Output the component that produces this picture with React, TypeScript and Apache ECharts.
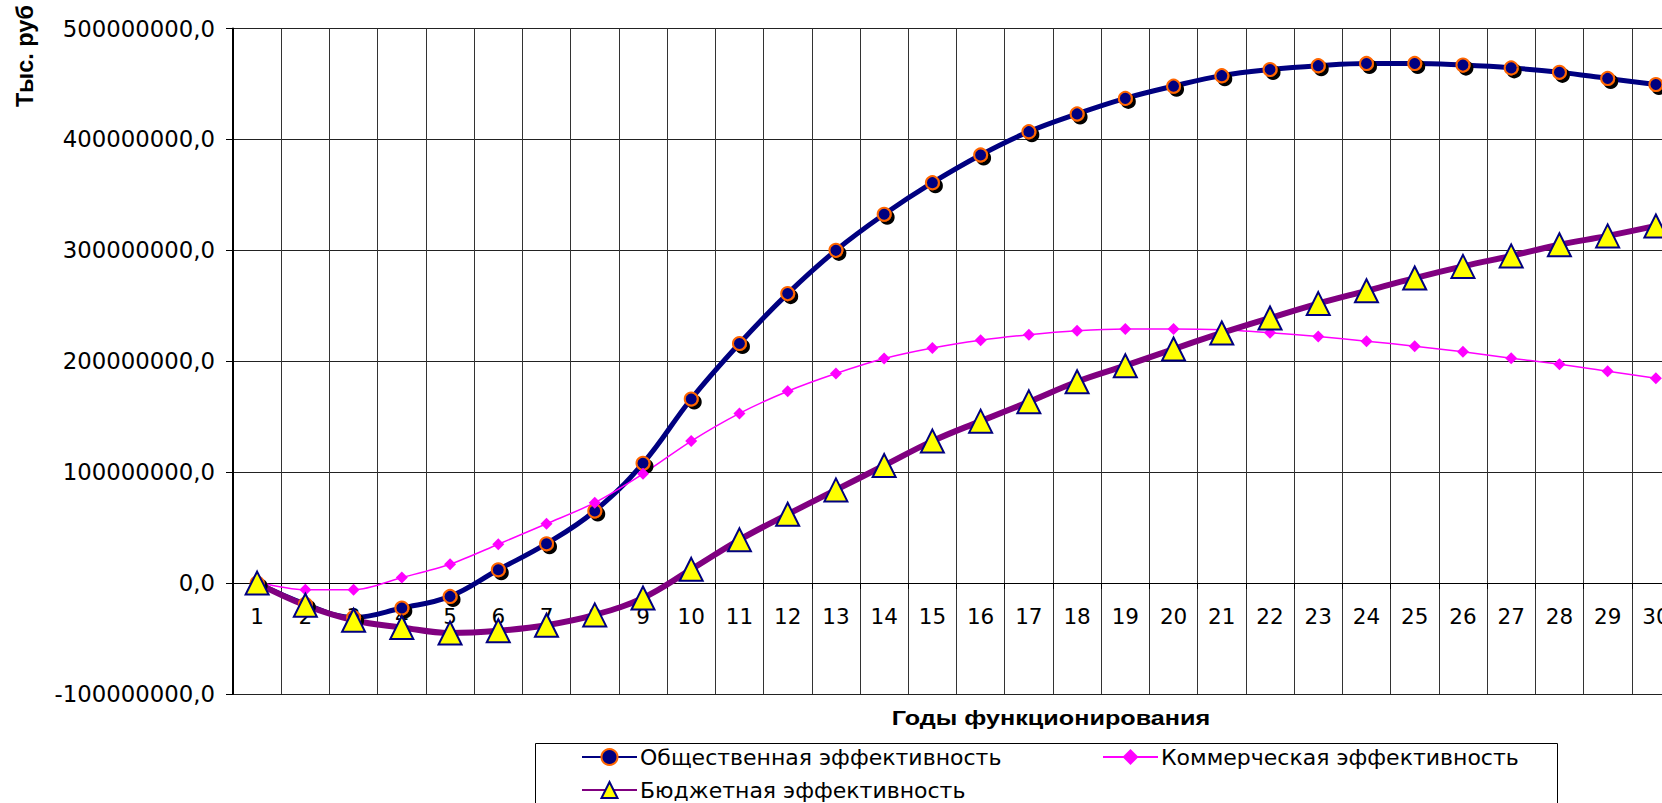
import React, { useEffect, useRef } from "react";
import * as echarts from "echarts";

const years = ["1","2","3","4","5","6","7","8","9","10","11","12","13","14","15","16","17","18","19","20","21","22","23","24","25","26","27","28","29","30"];

const publicEff = [0, -19e6, -31e6, -22.5e6, -12e6, 12e6, 35.5e6, 65e6, 108e6, 166e6, 216e6, 261e6, 300e6, 332.5e6, 361e6, 386e6, 407e6, 423e6, 437e6, 448e6, 457.5e6, 463e6, 466.5e6, 468.5e6, 468.5e6, 467e6, 464.5e6, 460.5e6, 455e6, 449.5e6];

const commercialEff = [1e6, -6e6, -6e6, 5e6, 17e6, 35e6, 53.5e6, 72.5e6, 98.5e6, 128e6, 153e6, 173e6, 189e6, 202.5e6, 212e6, 219e6, 224e6, 227.5e6, 229e6, 229e6, 228.3e6, 225.6e6, 222.3e6, 218.1e6, 213.6e6, 208.5e6, 202.8e6, 197.4e6, 191e6, 184.7e6];

const budgetEff = [0, -20e6, -33.5e6, -40e6, -45e6, -43e6, -38e6, -28.7e6, -13.4e6, 12.4e6, 39e6, 62e6, 84e6, 106e6, 128e6, 146e6, 163.4e6, 181.5e6, 196e6, 211e6, 225.5e6, 239e6, 252e6, 263.5e6, 275e6, 285.5e6, 295e6, 305e6, 313e6, 322e6];

const seriesNames = ["Общественная эффективность", "Коммерческая эффективность", "Бюджетная эффективность"];
const yTitle = "Тыс. руб";
const xTitle = "Годы функционирования";

const FONT = "'Liberation Sans', Arial, sans-serif";
const WIDE = "'DejaVu Sans', 'Liberation Sans', sans-serif";

const GRID_H = 665.5;
const Y_MIN = -100000000;
const Y_MAX = 500000000;

export default function App() {
  const ref = useRef<HTMLDivElement>(null);
  useEffect(() => {
    if (!ref.current) return;
    const chart = echarts.init(ref.current, null, { renderer: "svg" });
    const legendCommon = {
      orient: "horizontal",
      itemWidth: 55,
      itemHeight: 20,
      itemGap: 0,
      padding: 0,
      textStyle: { fontFamily: WIDE, fontSize: 22, color: "#000", padding: [0, 0, 0, -2] },
    };
    const zeroOffset = -GRID_H * (0 - Y_MIN) / (Y_MAX - Y_MIN);
    chart.setOption({
      animation: false,
      backgroundColor: "#fff",
      textStyle: { fontFamily: FONT },
      grid: { left: 233, top: 28.5, width: 1447, height: GRID_H, containLabel: false, outerBoundsMode: "none" },
      xAxis: {
        type: "category",
        data: years,
        boundaryGap: true,
        position: "bottom",
        offset: zeroOffset,
        axisLine: { onZero: false, lineStyle: { color: "#000", width: 1 } },
        axisTick: { show: true, length: 6, lineStyle: { color: "#000" } },
        axisLabel: { fontFamily: WIDE, fontSize: 21.5, color: "#000", margin: 22, interval: 0 },
        splitLine: { show: true, interval: 0, lineStyle: { color: "#333", width: 1 } },
      },
      yAxis: {
        type: "value",
        min: Y_MIN,
        max: Y_MAX,
        interval: 100000000,
        axisLine: { show: true, lineStyle: { color: "#000", width: 2 } },
        axisTick: { show: true, length: 7, lineStyle: { color: "#000" } },
        axisLabel: {
          fontFamily: WIDE,
          fontSize: 22.8,
          color: "#000",
          margin: 18,
          formatter: (v: number) => `${v},0`,
        },
        splitLine: { show: true, lineStyle: { color: "#222", width: 1 } },
      },
      legend: [
        { ...legendCommon, data: [seriesNames[0]], left: 581, top: 746 },
        { ...legendCommon, data: [seriesNames[1]], left: 1102, top: 746 },
        { ...legendCommon, data: [seriesNames[2]], left: 581, top: 779 },
      ],
      graphic: [
        {
          type: "rect",
          left: 533,
          top: 741,
          shape: { width: 1022, height: 80 },
          style: { fill: "none", stroke: "#000", lineWidth: 1 },
          z: -1,
        },
        {
          type: "text",
          x: 25,
          y: 56,
          rotation: Math.PI / 2,
          style: { text: yTitle, font: `bold 23.5px ${FONT}`, fill: "#000", align: "center", verticalAlign: "middle" },
        },
        {
          type: "text",
          x: 1051,
          y: 718,
          scaleX: 1.2,
          style: { text: xTitle, font: `bold 21px ${FONT}`, fill: "#000", align: "center", verticalAlign: "middle" },
        },
      ],
      series: [
        {
          name: seriesNames[0],
          type: "line",
          data: publicEff,
          smooth: 0.4,
          symbol: "circle",
          symbolSize: 13,
          lineStyle: { color: "#000080", width: 5 },
          itemStyle: {
            color: "#000080",
            borderColor: "#FF6600",
            borderWidth: 2,
            shadowColor: "#000",
            shadowOffsetX: 3,
            shadowOffsetY: 3,
            shadowBlur: 0,
          },
        },
        {
          name: seriesNames[1],
          type: "line",
          data: commercialEff,
          smooth: 0.3,
          symbol: "diamond",
          symbolSize: 12,
          lineStyle: { color: "#FF00FF", width: 1.5 },
          itemStyle: { color: "#FF00FF", borderWidth: 0 },
        },
        {
          name: seriesNames[2],
          type: "line",
          data: budgetEff,
          smooth: 0.4,
          symbol: "triangle",
          symbolSize: 23,
          lineStyle: { color: "#800080", width: 6 },
          itemStyle: { color: "#FFFF00", borderColor: "#000080", borderWidth: 2 },
        },
      ],
    });
    return () => chart.dispose();
  }, []);
  return (
    <div
      ref={ref}
      style={{ position: "absolute", left: 0, top: 0, width: 1662, height: 803, overflow: "hidden" }}
    />
  );
}
